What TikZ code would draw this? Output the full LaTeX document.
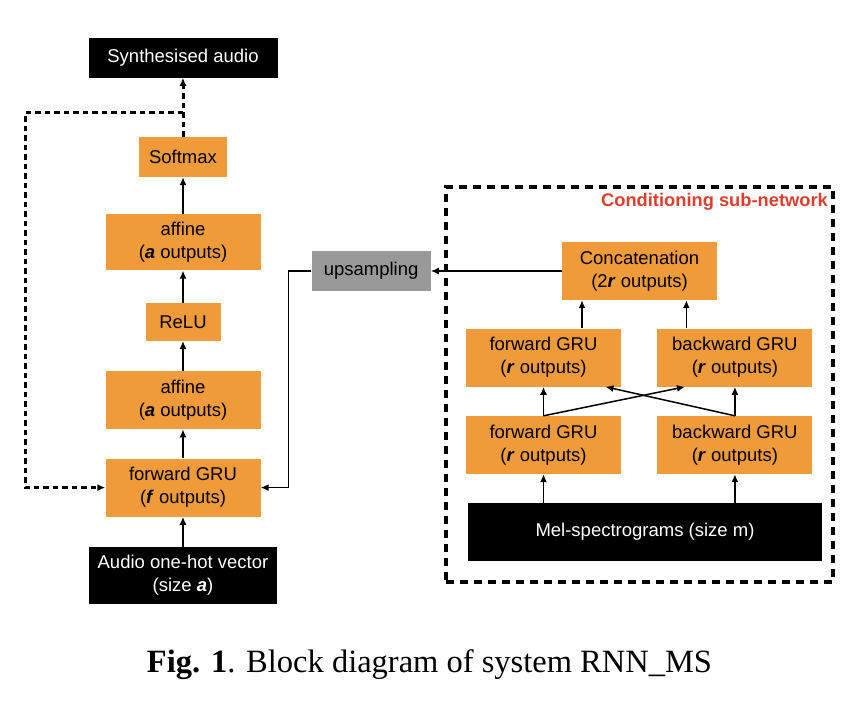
\documentclass[tikz,border=0pt]{standalone}
\usepackage{fontspec}
\setmainfont{Liberation Sans}
\newfontfamily\capfont{Liberation Serif}
\usetikzlibrary{positioning,arrows.meta,fit}

\definecolor{gruorange}{RGB}{240,155,57}
\definecolor{upgray}{RGB}{153,153,153}
\definecolor{condred}{RGB}{224,62,45}

\newcommand{\bi}[1]{\textbf{\textit{#1}}}

\begin{document}
\begin{tikzpicture}[x=1pt, y=-1pt,
    every node/.style={font=\fontsize{18.5}{23}\selectfont, align=center, inner sep=0pt}]
    \tikzstyle{block}=[rectangle, fill=gruorange, minimum width=155pt, minimum height=58pt]
    \tikzstyle{ioblock}=[rectangle, fill=black, text=white]
    \tikzstyle{connect}=[-{Latex[length=8pt,width=7pt]}, line width=1.5pt]
    \tikzstyle{feedback}=[connect, line width=3pt, dash pattern=on 5.5pt off 4pt]
    \tikzstyle{condframe}=[draw, line width=4pt, dash pattern=on 8pt off 6pt]

    \useasboundingbox (0,0) rectangle (864,702);

      % sample-level network
      \node[ioblock, minimum width=188pt, minimum height=57pt] (audio) at (183,575.5) {Audio one-hot vector\\(size \bi{a})};
      \node[block] (gruF) [above=30pt of audio] {forward GRU\\(\bi{f} outputs)};
      \node[block] (aff2) [above=29pt of gruF] {affine\\(\bi{a} outputs)};
      \node[block, minimum width=75pt, minimum height=38pt] (relu) [above=30pt of aff2] {ReLU};
      \node[block, minimum height=56pt] (aff1) [above=32pt of relu] {affine\\(\bi{a} outputs)};
      \node[block, minimum width=88pt, minimum height=40pt] (softmax) [above=37pt of aff1] {Softmax};
      \node[ioblock, minimum width=189pt, minimum height=40pt] (synth) [above=59pt of softmax] {Synthesised audio};
      \coordinate (fbsplit) at ([yshift=24pt]softmax.north);
      \coordinate (fbcorner) at ([xshift=-158pt]fbsplit);

      % conditioning sub-network
      \node[ioblock, minimum width=354pt, minimum height=58pt] (mel) at (645,532) {Mel-spectrograms (size m)};
      \node[block] (fgruA) at (543.5,445) {forward GRU\\(\bi{r} outputs)};
      \node[block] (bgruA) [right=36pt of fgruA] {backward GRU\\(\bi{r} outputs)};
      \node[block] (fgruB) [above=29pt of fgruA] {forward GRU\\(\bi{r} outputs)};
      \node[block] (bgruB) [above=29pt of bgruA] {backward GRU\\(\bi{r} outputs)};
      \node[block] (concat) at (639.5,271) {Concatenation\\(2\bi{r} outputs)};
      \node[fill=upgray, minimum width=119pt, minimum height=40pt] (ups) [left=131pt of concat] {upsampling};
      \coordinate (upsbend) at ([xshift=-23pt]ups.west);

      \path
        (audio) edge [connect] (gruF)
        (gruF) edge [connect] (aff2)
        (aff2) edge [connect] (relu)
        (relu) edge [connect] (aff1)
        (aff1) edge [connect] (softmax)
        (softmax) edge [feedback] (synth)
        (concat) edge [connect] (ups)
        (fgruA) edge [connect] (fgruB)
        (bgruA) edge [connect] (bgruB);
      \draw[feedback] (fbsplit) -- (fbcorner) |- (gruF);
      \draw[connect] (ups.west) -- (upsbend) |- (gruF);
      \draw[connect] (mel.north -| fgruA) -- (fgruA);
      \draw[connect] (mel.north -| bgruA) -- (bgruA);
      \draw[connect] (fgruA.north) -- ([xshift=-50pt]bgruB.south);
      \draw[connect] (bgruA.north) -- ([xshift=62pt]fgruB.south);
      \draw[connect] ([xshift=38.5pt]fgruB.north) -- ([xshift=38.5pt]fgruB.north |- concat.south);
      \draw[connect] ([xshift=-48.5pt]bgruB.north) -- ([xshift=-48.5pt]bgruB.north |- concat.south);

      \node[condframe, fit={(446,187) (833,582)}] (cond) {};
      \node[anchor=base east, text=condred, font=\bfseries\fontsize{18.3}{22}\selectfont] (condlabel) at ([xshift=-7pt, yshift=-21pt]cond.north east) {Conditioning sub-network};

      \node[anchor=base, font=\capfont\fontsize{32.5}{38}\selectfont] (caption) at (429.5,672) {\textbf{Fig. 1}. Block diagram of system RNN\_MS};
    \end{tikzpicture}
\end{document}
